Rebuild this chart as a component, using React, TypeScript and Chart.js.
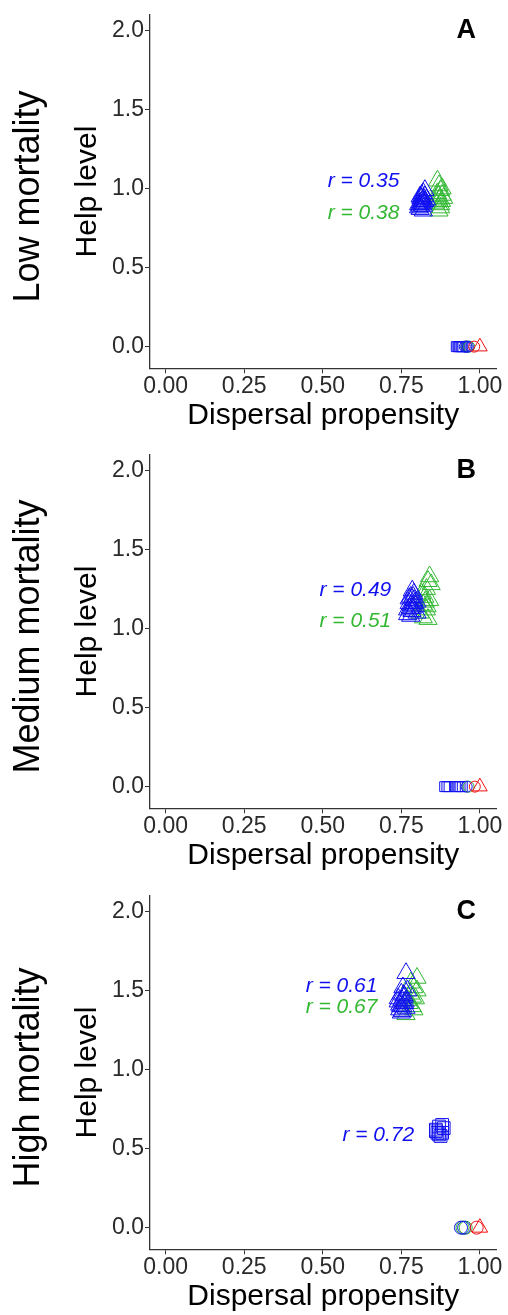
import React, { useEffect, useRef } from "react";
import { Chart, registerables } from "chart.js";
Chart.register(...registerables);

const FONT = '"Liberation Sans", Arial, sans-serif';
const BLUE = "#1010F0";
const GREEN = "#33B833";
const RED = "#F01010";

const rowLabels = ["Low mortality", "Medium mortality", "High mortality"];
const panelLetters = ["A", "B", "C"];
const xTicks = [0, 0.25, 0.5, 0.75, 1.0];
const yTicks = [0, 0.5, 1.0, 1.5, 2.0];

// ---- Panel A (low mortality) ----
const aBlueTriX = [0.805, 0.81, 0.815, 0.82, 0.825, 0.83, 0.81, 0.82, 0.815, 0.805, 0.825, 0.82, 0.81, 0.815, 0.82, 0.81, 0.825, 0.815, 0.82, 0.812];
const aBlueTriY = [0.88, 0.91, 0.94, 0.97, 0.99, 0.93, 0.87, 0.89, 0.96, 0.9, 0.92, 0.86, 0.95, 0.9, 0.93, 0.89, 0.95, 0.92, 0.91, 0.94];
const aGreenTriX = [0.865, 0.87, 0.875, 0.88, 0.87, 0.86, 0.875, 0.885, 0.865, 0.87, 0.88, 0.875, 0.868, 0.878];
const aGreenTriY = [1.05, 1.02, 0.99, 0.96, 0.93, 0.91, 0.88, 0.94, 0.97, 0.86, 1.0, 0.9, 0.95, 0.92];
const aBlueSqX = [0.925, 0.93, 0.933, 0.936, 0.94, 0.943, 0.946];
const aBlueSqY = [0, 0, 0, 0, 0, 0, 0];
const aBlueCircX = [0.952, 0.957, 0.962];
const aBlueCircY = [0, 0, 0];
const aGreenCircX = [0.958, 0.966];
const aGreenCircY = [0, 0];
const aRedCircX = [0.982];
const aRedCircY = [0];
const aRedTriX = [1.0];
const aRedTriY = [0];

// ---- Panel B (medium mortality) ----
const bBlueTriX = [0.77, 0.775, 0.78, 0.785, 0.79, 0.795, 0.8, 0.78, 0.79, 0.775, 0.785, 0.8, 0.77, 0.782, 0.788, 0.778, 0.792, 0.784];
const bBlueTriY = [1.12, 1.16, 1.2, 1.24, 1.18, 1.14, 1.1, 1.08, 1.22, 1.19, 1.13, 1.17, 1.09, 1.15, 1.2, 1.13, 1.16, 1.11];
const bGreenTriX = [0.81, 0.82, 0.825, 0.83, 0.835, 0.84, 0.845, 0.82, 0.83, 0.84, 0.815, 0.835, 0.826, 0.832];
const bGreenTriY = [1.1, 1.15, 1.2, 1.25, 1.3, 1.33, 1.28, 1.07, 1.12, 1.18, 1.22, 1.06, 1.17, 1.14];
const bBlueSqX = [0.888, 0.895, 0.902, 0.922, 0.93, 0.937, 0.944];
const bBlueSqY = [0, 0, 0, 0, 0, 0, 0];
const bBlueCircX = [0.958];
const bBlueCircY = [0];
const bGreenCircX = [0.964];
const bGreenCircY = [0];
const bRedCircX = [0.984];
const bRedCircY = [0];
const bRedTriX = [1.0];
const bRedTriY = [0];

// ---- Panel C (high mortality) ----
const cBlueTriX = [0.765, 0.74, 0.75, 0.76, 0.745, 0.755, 0.77, 0.75, 0.74, 0.76, 0.755, 0.765, 0.745, 0.752, 0.758, 0.748, 0.762, 0.754];
const cBlueTriY = [1.61, 1.45, 1.48, 1.42, 1.38, 1.4, 1.5, 1.36, 1.43, 1.46, 1.52, 1.39, 1.41, 1.44, 1.47, 1.4, 1.43, 1.37];
const cGreenTriX = [0.8, 0.79, 0.78, 0.795, 0.775, 0.785, 0.765, 0.79, 0.8, 0.77, 0.78, 0.786];
const cGreenTriY = [1.58, 1.52, 1.48, 1.45, 1.42, 1.4, 1.35, 1.38, 1.5, 1.44, 1.55, 1.46];
const cBlueSqX = [0.86, 0.87, 0.88, 0.865, 0.875, 0.885, 0.87, 0.86, 0.88];
const cBlueSqY = [0.62, 0.64, 0.65, 0.6, 0.58, 0.63, 0.59, 0.61, 0.6];
const cBlueCircX = [0.94, 0.95];
const cBlueCircY = [0, 0];
const cGreenCircX = [0.945, 0.955];
const cGreenCircY = [0, 0];
const cRedCircX = [0.99];
const cRedCircY = [0];
const cRedTriX = [1.0];
const cRedTriY = [0];

// ---- correlation labels (anchored at right edge, data coords) ----
const aRText = ["r = 0.35", "r = 0.38"];
const aRX = [0.744, 0.744];
const aRY = [1.045, 0.845];
const aRColor = [BLUE, GREEN];
const bRText = ["r = 0.49", "r = 0.51"];
const bRX = [0.718, 0.718];
const bRY = [1.246, 1.045];
const bRColor = [BLUE, GREEN];
const cRText = ["r = 0.61", "r = 0.67", "r = 0.72"];
const cRX = [0.674, 0.674, 0.791];
const cRY = [1.531, 1.393, 0.588];
const cRColor = [BLUE, GREEN, BLUE];

type Series = { xs: number[]; ys: number[]; style: string; color: string; r: number };

const panels = [
  {
    series: [
      { xs: aBlueTriX, ys: aBlueTriY, style: "triangle", color: BLUE, r: 10.5 },
      { xs: aGreenTriX, ys: aGreenTriY, style: "triangle", color: GREEN, r: 10.5 },
      { xs: aRedTriX, ys: aRedTriY, style: "triangle", color: RED, r: 8.5 },
      { xs: aRedCircX, ys: aRedCircY, style: "circle", color: RED, r: 5.5 },
      { xs: aBlueCircX, ys: aBlueCircY, style: "circle", color: BLUE, r: 5.5 },
      { xs: aGreenCircX, ys: aGreenCircY, style: "circle", color: GREEN, r: 5.5 },
      { xs: aBlueSqX, ys: aBlueSqY, style: "rect", color: BLUE, r: 7 },
    ] as Series[],
    rText: aRText, rX: aRX, rY: aRY, rColor: aRColor,
  },
  {
    series: [
      { xs: bBlueTriX, ys: bBlueTriY, style: "triangle", color: BLUE, r: 10.5 },
      { xs: bGreenTriX, ys: bGreenTriY, style: "triangle", color: GREEN, r: 10.5 },
      { xs: bRedTriX, ys: bRedTriY, style: "triangle", color: RED, r: 8.5 },
      { xs: bRedCircX, ys: bRedCircY, style: "circle", color: RED, r: 5.5 },
      { xs: bBlueCircX, ys: bBlueCircY, style: "circle", color: BLUE, r: 5.5 },
      { xs: bGreenCircX, ys: bGreenCircY, style: "circle", color: GREEN, r: 5.5 },
      { xs: bBlueSqX, ys: bBlueSqY, style: "rect", color: BLUE, r: 7 },
    ] as Series[],
    rText: bRText, rX: bRX, rY: bRY, rColor: bRColor,
  },
  {
    series: [
      { xs: cBlueTriX, ys: cBlueTriY, style: "triangle", color: BLUE, r: 10.5 },
      { xs: cGreenTriX, ys: cGreenTriY, style: "triangle", color: GREEN, r: 10.5 },
      { xs: cBlueSqX, ys: cBlueSqY, style: "rect", color: BLUE, r: 9 },
      { xs: cRedTriX, ys: cRedTriY, style: "triangle", color: RED, r: 9 },
      { xs: cRedCircX, ys: cRedCircY, style: "circle", color: RED, r: 6.5 },
      { xs: cBlueCircX, ys: cBlueCircY, style: "circle", color: BLUE, r: 6.5 },
      { xs: cGreenCircX, ys: cGreenCircY, style: "circle", color: GREEN, r: 6.5 },
    ] as Series[],
    rText: cRText, rX: cRX, rY: cRY, rColor: cRColor,
  },
];

const CANVAS_W = 508;
const CANVAS_H = 434;
const PANEL_TOPS = [0, 440, 881];

function Panel({ index }: { index: number }) {
  const ref = useRef<HTMLCanvasElement | null>(null);
  useEffect(() => {
    if (!ref.current) return;
    const p = panels[index];
    const overlay = {
      id: "overlay" + index,
      afterDraw(chart: any) {
        const { ctx, chartArea, scales } = chart;
        const xs = scales.x;
        const ys = scales.y;
        ctx.save();
        ctx.save();
        ctx.translate(29, (chartArea.top + chartArea.bottom) / 2 + 5);
        ctx.rotate(-Math.PI / 2);
        ctx.font = `36px ${FONT}`;
        ctx.fillStyle = "#000";
        ctx.textAlign = "center";
        ctx.textBaseline = "middle";
        ctx.fillText(rowLabels[index], 0, 0);
        ctx.restore();
        ctx.font = `bold 27px ${FONT}`;
        ctx.fillStyle = "#000";
        ctx.textAlign = "center";
        ctx.textBaseline = "middle";
        ctx.fillText(panelLetters[index], xs.getPixelForValue(0.957), ys.getPixelForValue(2.0));
        ctx.font = `italic 21px ${FONT}`;
        ctx.textAlign = "right";
        for (let i = 0; i < p.rText.length; i++) {
          ctx.fillStyle = p.rColor[i];
          ctx.fillText(p.rText[i], xs.getPixelForValue(p.rX[i]), ys.getPixelForValue(p.rY[i]));
        }
        ctx.restore();
      },
    };
    const chart = new Chart(ref.current, {
      type: "scatter",
      data: {
        datasets: p.series.map((s, i) => ({
          label: "s" + i,
          data: s.xs.map((x, j) => ({ x, y: s.ys[j] })),
          pointStyle: s.style as any,
          pointRadius: s.r,
          pointBorderWidth: 1,
          pointBorderColor: s.color,
          pointBackgroundColor: "rgba(0,0,0,0)",
          borderColor: s.color,
          backgroundColor: "rgba(0,0,0,0)",
          order: i,
        })),
      },
      options: {
        animation: false,
        responsive: false,
        devicePixelRatio: 1,
        layout: { padding: { left: 0, right: 10.7, top: 11.7, bottom: 0 } },
        plugins: { legend: { display: false }, tooltip: { enabled: false } },
        scales: {
          x: {
            type: "linear",
            min: -0.05,
            max: 1.053,
            afterBuildTicks: (s: any) => {
              s.ticks = xTicks.map((v) => ({ value: v }));
            },
            afterFit: (s: any) => {
              s.height = CANVAS_H - 11.7 - 356.6;
            },
            ticks: {
              callback: (v: any) => Number(v).toFixed(2),
              font: { family: FONT, size: 23 },
              color: "#2a2a2a",
              padding: 0,
              maxRotation: 0,
              autoSkip: false,
            },
            grid: { display: true, drawOnChartArea: false, drawTicks: true, tickLength: 5, color: "#333", lineWidth: 1 },
            border: { display: true, color: "#333", width: 1.3 },
            title: {
              display: true,
              text: "Dispersal propensity",
              font: { family: FONT, size: 30 },
              color: "#000",
              padding: { top: 0, bottom: 0 },
            },
          },
          y: {
            type: "linear",
            min: -0.137,
            max: 2.1,
            afterBuildTicks: (s: any) => {
              s.ticks = yTicks.map((v) => ({ value: v }));
            },
            afterFit: (s: any) => {
              s.width = 150;
            },
            ticks: {
              callback: (v: any) => Number(v).toFixed(1),
              font: { family: FONT, size: 23 },
              color: "#2a2a2a",
              padding: 1,
              autoSkip: false,
            },
            grid: { display: true, drawOnChartArea: false, drawTicks: true, tickLength: 5, color: "#333", lineWidth: 1 },
            border: { display: true, color: "#333", width: 1.3 },
            title: {
              display: true,
              text: "Help level",
              font: { family: FONT, size: 30 },
              color: "#000",
              padding: { top: 70, bottom: 0 },
            },
          },
        },
      },
      plugins: [overlay],
    } as any);
    return () => chart.destroy();
  }, [index]);
  return (
    <canvas
      ref={ref}
      width={CANVAS_W}
      height={CANVAS_H}
      style={{ position: "absolute", left: 0, top: PANEL_TOPS[index], width: CANVAS_W, height: CANVAS_H }}
    />
  );
}

export default function App() {
  return (
    <div
      style={{
        position: "absolute",
        left: 0,
        top: 0,
        width: 508,
        height: 1315,
        overflow: "hidden",
        background: "#fff",
      }}
    >
      <Panel index={0} />
      <Panel index={1} />
      <Panel index={2} />
    </div>
  );
}
